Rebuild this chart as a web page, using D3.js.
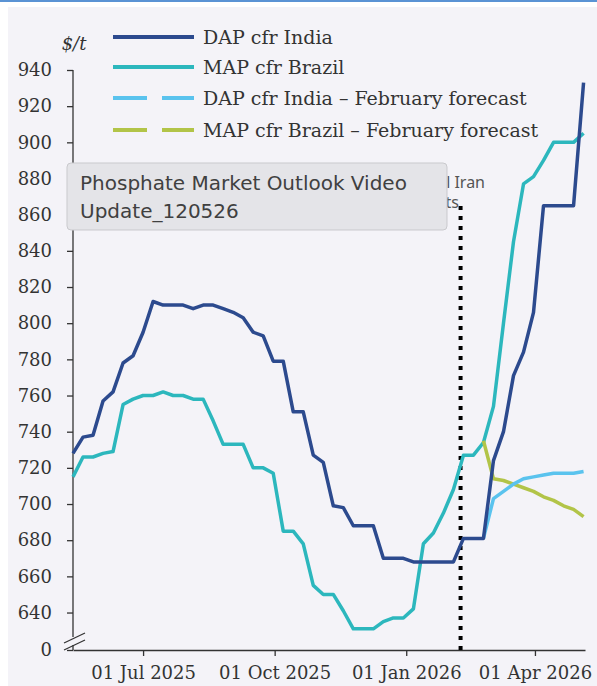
<!DOCTYPE html>
<html>
<head>
<meta charset="utf-8">
<script src="https://cdn.jsdelivr.net/npm/d3@7"></script>
<style>
  body { margin: 0; background: #ffffff; }
  svg { display: block; }
</style>
</head>
<body>
<svg width="597" height="686"></svg>
<script>
// weekly price assessments, first week 13 May 2025
var firstWeek = "2025-05-13";
var dapIndia = [728, 737, 738, 757, 762, 778, 782, 795, 812, 810, 810, 810, 808, 810, 810, 808,
                806, 803, 795, 793, 779, 779, 751, 751, 727, 723, 699, 698, 688, 688, 688, 670,
                670, 670, 668, 668, 668, 668, 668, 681, 681, 681, 724, 740, 771, 784, 806, 865,
                865, 865, 865, 933];
var mapBrazil = [715, 726, 726, 728, 729, 755, 758, 760, 760, 762, 760, 760, 758, 758, 746, 733,
                 733, 733, 720, 720, 717, 685, 685, 678, 655, 650, 650, 641, 631, 631, 631, 635,
                 637, 637, 642, 678, 684, 695, 708, 727, 727, 734, 754, 800, 845, 877, 881, 890,
                 900, 900, 900, 905];
// February forecasts start at week 41
var forecastStart = 41;
var dapForecast = [681, 703, 707, 711, 714, 715, 716, 717, 717, 717, 718];
var mapForecast = [735, 714, 713, 711, 709, 707, 704, 702, 699, 697, 693];
var yTicks = [0, 640, 660, 680, 700, 720, 740, 760, 780, 800, 820, 840, 860, 880, 900, 920, 940];
var xTicks = ["2025-07-01", "2025-10-01", "2026-01-01", "2026-04-01"];
var eventDate = "2026-02-08";
var legendNames = ["DAP cfr India", "MAP cfr Brazil", "DAP cfr India \u2013 February forecast", "MAP cfr Brazil \u2013 February forecast"];
var colors = ["#2c4a8e", "#2cb7bd", "#5ac3ee", "#b2c448"];

var width = 597;
var height = 686;
var parse = d3.utcParse("%Y-%m-%d");
var week0 = parse(firstWeek);
var weekDate = i => d3.utcDay.offset(week0, 7 * i);

var svg = d3.select("svg");

// frame: thin blue rule on top and grey panel
svg.append("rect").attr("x", 0).attr("y", 0).attr("width", width).attr("height", 2).attr("fill", "#5a93d4");
svg.append("rect").attr("x", 8).attr("y", 7).attr("width", width - 8).attr("height", height - 7).attr("fill", "#f4f3f8");

var xScale = d3.scaleUtc()
    .domain([parse("2025-05-13"), parse("2026-05-06")])
    .range([73, 585]);
//broken axis: 0 sits just below the 620-940 band
var yScale = d3.scaleLinear()
    .domain([0, 620, 940])
    .range([650, 648.7, 70]);

// y axis
var yAxis = svg.append("g")
    .attr("transform", "translate(73,0)")
    .call(d3.axisLeft(yScale).tickValues(yTicks).tickSize(6).tickPadding(15));
yAxis.select(".domain").remove();
yAxis.selectAll("line").attr("stroke", "#333").attr("stroke-width", 1.3);
yAxis.selectAll("text")
    .attr("font-family", "DejaVu Serif")
    .attr("font-size", 18)
    .attr("fill", "#333");
yAxis.append("line").attr("x1", 0).attr("x2", 0)
    .attr("y1", yScale(940)).attr("y2", 637).attr("stroke", "#333").attr("stroke-width", 1.3);
yAxis.append("line").attr("x1", 0).attr("x2", 0)
    .attr("y1", 645).attr("y2", yScale(0)).attr("stroke", "#333").attr("stroke-width", 1.3);
yAxis.selectAll(".brk")
    .data([639, 646])
    .enter()
    .append("line")
        .attr("x1", -9).attr("x2", 12)
        .attr("y1", d => d + 4).attr("y2", d => d - 6)
        .attr("stroke", "#333").attr("stroke-width", 1.3);

svg.append("text")
    .attr("x", 74).attr("y", 50)
    .attr("text-anchor", "middle")
    .attr("font-family", "DejaVu Serif")
    .attr("font-style", "italic")
    .attr("font-size", 18)
    .attr("fill", "#333")
    .text("$/t");

// x axis
var xAxis = svg.append("g")
    .attr("transform", "translate(0," + yScale(0) + ")")
    .call(d3.axisBottom(xScale)
        .tickValues(xTicks.map(parse))
        .tickFormat(d3.utcFormat("%d %b %Y"))
        .tickSize(6).tickSizeOuter(0).tickPadding(10));
xAxis.select(".domain").attr("stroke", "#333").attr("stroke-width", 1.3);
xAxis.selectAll("line").attr("stroke", "#333").attr("stroke-width", 1.3);
xAxis.selectAll("text")
    .attr("font-family", "DejaVu Serif")
    .attr("font-size", 18)
    .attr("fill", "#333");

// event marker
svg.append("line")
    .attr("x1", xScale(parse(eventDate))).attr("x2", xScale(parse(eventDate)))
    .attr("y1", 206).attr("y2", yScale(0))
    .attr("stroke", "#000")
    .attr("stroke-width", 4)
    .attr("stroke-dasharray", "4,6");
var note = svg.append("text")
    .attr("font-family", "Noto Sans")
    .attr("font-size", 16)
    .attr("fill", "#555")
    .attr("text-anchor", "end");
note.append("tspan").attr("x", 485).attr("y", 188).text("US-Israel Iran");
note.append("tspan").attr("x", 459).attr("y", 208).text("conflict starts");

// price lines
var line = d3.line()
    .x(d => xScale(d.date))
    .y(d => yScale(d.value));
var series = [
    dapIndia.map((v, i) => ({date: weekDate(i), value: v})),
    mapBrazil.map((v, i) => ({date: weekDate(i), value: v})),
    dapForecast.map((v, i) => ({date: weekDate(forecastStart + i), value: v})),
    mapForecast.map((v, i) => ({date: weekDate(forecastStart + i), value: v}))
];
var drawOrder = [1, 3, 2, 0];
svg.selectAll(".series")
    .data(drawOrder)
    .enter()
    .append("path")
        .attr("class", "series")
        .attr("d", k => line(series[k]))
        .attr("fill", "none")
        .attr("stroke", k => colors[k])
        .attr("stroke-width", 3.5)
        .attr("stroke-linejoin", "round");

// legend
var legendY = [37, 67, 98, 130];
var legend = svg.selectAll(".legend")
    .data(legendNames)
    .enter()
    .append("g")
        .attr("class", "legend")
        .attr("transform", (d, i) => "translate(113," + legendY[i] + ")");
legend.append("line")
    .attr("x1", 0).attr("x2", 81)
    .attr("stroke", (d, i) => colors[i])
    .attr("stroke-width", 4)
    .attr("stroke-dasharray", (d, i) => i > 1 ? "34,15" : null);
legend.append("text")
    .attr("x", 90).attr("y", 7)
    .attr("font-family", "DejaVu Serif")
    .attr("font-size", 19)
    .attr("fill", "#333")
    .text(d => d);

// video tooltip overlay
var tip = svg.append("g");
tip.append("rect")
    .attr("x", 67).attr("y", 163).attr("width", 380).attr("height", 67)
    .attr("rx", 4)
    .attr("fill", "#e4e4e8")
    .attr("stroke", "#c9c9cd");
tip.append("text")
    .attr("font-family", "DejaVu Sans")
    .attr("font-size", 20)
    .attr("fill", "#404040")
    .selectAll("tspan")
    .data(["Phosphate Market Outlook Video", "Update_120526"])
    .enter()
    .append("tspan")
        .attr("x", 80)
        .attr("y", (d, i) => 190 + i * 28)
        .text(d => d);
</script>
</body>
</html>
